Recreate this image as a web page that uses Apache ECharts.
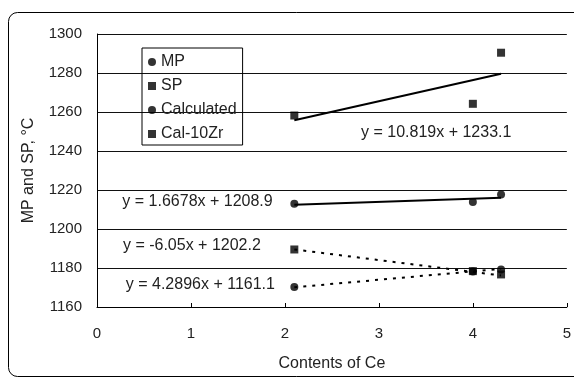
<!DOCTYPE html>
<html>
<head>
<meta charset="utf-8">
<script src="https://cdn.jsdelivr.net/npm/echarts@6/dist/echarts.min.js"></script>
<style>html,body{margin:0;padding:0;background:#fff}#main{width:574px;height:378px}</style>
</head>
<body>
<div id="main"></div>
<script>
// values
var xs = [2.1, 4.0, 4.3];
var mp = [1213, 1213.8, 1217.7];
var sp = [1258.2, 1264.2, 1290.4];
var calc = [1170.2, 1178.2, 1179.2];
var cal10 = [1189.5, 1178.4, 1176.7];
// trend lines as printed on the chart
var trendNames = ['SP', 'MP', 'Cal-10Zr', 'Calculated'];
var slopes = [10.819, 1.6678, -6.05, 4.2896];
var intercepts = [1233.1, 1208.9, 1202.2, 1161.1];
var eqLabels = ['y = 10.819x + 1233.1', 'y = 1.6678x + 1208.9', 'y = -6.05x + 1202.2', 'y = 4.2896x + 1161.1'];
var eqPos = [[3.61, 1249.2], [1.07, 1213.8], [1.01, 1191.3], [1.1, 1171.6]];
var trendDotted = [false, false, true, true];

var domMain = document.getElementById('main');
var myChart = echarts.init(domMain);

function pts(ys){
    return xs.map(function(x, i){ return [x, ys[i]]; });
}

var font = 'Liberation Sans, Arial, sans-serif';
var series = [
    {name: 'MP', type: 'scatter', data: pts(mp), symbol: 'circle', symbolSize: 8, itemStyle: {color: '#000'}, z: 5},
    {name: 'SP', type: 'scatter', data: pts(sp), symbol: 'rect', symbolSize: 8, itemStyle: {color: '#000'}, z: 5},
    {name: 'Calculated', type: 'scatter', data: pts(calc), symbol: 'circle', symbolSize: 8, itemStyle: {color: '#000'}, z: 5},
    {name: 'Cal-10Zr', type: 'scatter', data: pts(cal10), symbol: 'rect', symbolSize: 8, itemStyle: {color: '#000'}, z: 5}
];

trendNames.forEach(function(n, i){
    var x0 = xs[0], x1 = xs[xs.length - 1];
    series.push({
        name: n + ' trend',
        type: 'line',
        data: [[x0, slopes[i] * x0 + intercepts[i]], [x1, slopes[i] * x1 + intercepts[i]]],
        symbol: 'none',
        silent: true,
        lineStyle: {color: '#000', width: 2, type: trendDotted[i] ? [3, 6] : 'solid'},
        z: 4,
        markPoint: {
            symbol: 'circle', symbolSize: 0, silent: true,
            label: {show: true, position: 'inside', formatter: eqLabels[i], color: '#222', fontFamily: font, fontSize: 16},
            data: [{coord: eqPos[i]}]
        }
    });
});

var option = {
    animation: false,
    backgroundColor: '#fff',
    grid: {left: 97, right: 2, top: 34, bottom: 71},
    legend: {
        orient: 'vertical', left: 142, top: 48,
        data: ['MP', 'SP', 'Calculated', 'Cal-10Zr'],
        borderColor: '#000', borderWidth: 1, borderRadius: 0,
        padding: [6, 6, 3, 6],
        itemWidth: 8, itemHeight: 8, itemGap: 8,
        textStyle: {color: '#222', fontFamily: font, fontSize: 16, lineHeight: 16}
    },
    xAxis: {
        type: 'value', min: 0, max: 5, interval: 1,
        name: 'Contents of Ce', nameLocation: 'middle', nameGap: 49,
        nameTextStyle: {color: '#222', fontFamily: font, fontSize: 16},
        axisLine: {lineStyle: {color: '#000', width: 1}},
        axisTick: {show: true, inside: true, length: 4, lineStyle: {color: '#000'}},
        axisLabel: {color: '#222', fontFamily: font, fontSize: 15, margin: 19, showMaxLabel: true},
        splitLine: {show: false}
    },
    yAxis: {
        type: 'value', min: 1160, max: 1300, interval: 20,
        name: 'MP and SP, °C', nameLocation: 'middle', nameGap: 60, nameRotate: 90,
        nameTextStyle: {color: '#222', fontFamily: font, fontSize: 16},
        axisLine: {show: true, lineStyle: {color: '#000', width: 1}},
        axisTick: {show: false},
        axisLabel: {color: '#222', fontFamily: font, fontSize: 15, margin: 15, formatter: function(v){ return String(v); }},
        splitLine: {show: true, lineStyle: {color: '#111', width: 1}}
    },
    graphic: [{
        type: 'rect', silent: true, z: -1,
        shape: {x: 8.5, y: 12.5, width: 620, height: 364, r: 9},
        style: {fill: 'none', stroke: '#000', lineWidth: 1}
    }],
    series: series
};

function refresh(opt){
    myChart.setOption(opt, true);
}
refresh(option);
</script>
</body>
</html>
